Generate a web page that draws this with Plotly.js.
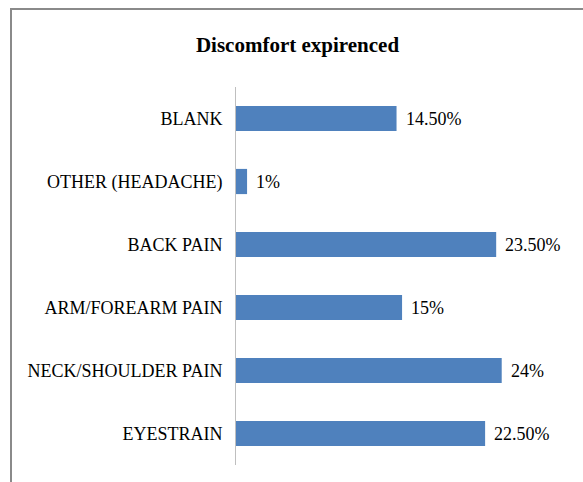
<!DOCTYPE html>
<html>
<head>
<meta charset="utf-8">
<script src="https://cdn.plot.ly/plotly-3.0.1.min.js"></script>
<style>
  html, body { margin: 0; padding: 0; background: #ffffff; }
  #wrap { position: relative; width: 583px; height: 482px; overflow: hidden; }
  #chart { position: absolute; left: 0; top: 0; width: 583px; height: 482px; }
  #frame { position: absolute; left: 10px; top: 8px; width: 640px; height: 540px;
           border: 2px solid #8a8a8a; pointer-events: none; box-sizing: border-box; }
</style>
</head>
<body>
<div id="wrap">
  <div id="chart"></div>
  <div id="frame"></div>
</div>
<script>
// Categories listed bottom to top
var categories = ["EYESTRAIN", "NECK/SHOULDER PAIN", "ARM/FOREARM PAIN", "BACK PAIN", "OTHER (HEADACHE)", "BLANK"];
var values = [22.5, 24, 15, 23.5, 1, 14.5];
var valueLabels = ["22.50%", "24%", "15%", "23.50%", "1%", "14.50%"];
var chartTitle = "Discomfort expirenced";

var serif = "'Liberation Serif', 'Times New Roman', serif";

var trace = {
  type: "bar",
  orientation: "h",
  x: values,
  y: categories,
  marker: { color: "#4f81bd", line: { width: 0 } },
  hoverinfo: "none"
};

var annotations = categories.map(function (c, i) {
  return {
    x: values[i], y: c, xref: "x", yref: "y",
    text: valueLabels[i], showarrow: false,
    xanchor: "left", yanchor: "middle", xshift: 7,
    font: { family: serif, size: 18, color: "#000000" }
  };
});

var layout = {
  width: 583, height: 482,
  margin: { l: 236, r: 37, t: 87, b: 17, pad: 0 },
  paper_bgcolor: "#ffffff",
  plot_bgcolor: "#ffffff",
  showlegend: false,
  bargap: 0.6,
  title: {
    text: "<b>" + chartTitle + "</b>",
    font: { family: serif, size: 21, color: "#000000" },
    x: 297.5 / 583, xanchor: "center", xref: "container",
    y: 1 - 45 / 482, yanchor: "middle", yref: "container"
  },
  xaxis: {
    range: [0, 28], showgrid: false, zeroline: false, showline: false,
    showticklabels: false, ticks: "", fixedrange: true
  },
  yaxis: {
    type: "category",
    categoryorder: "array", categoryarray: categories,
    range: [-0.5, 5.5],
    showgrid: false, zeroline: false,
    showline: true, linecolor: "#bfbfbf", linewidth: 1,
    ticks: "", ticklabelstandoff: 9,
    tickfont: { family: serif, size: 18, color: "#000000" },
    fixedrange: true
  },
  annotations: annotations
};

Plotly.newPlot("chart", [trace], layout, { displayModeBar: false, staticPlot: true });
</script>
</body>
</html>
